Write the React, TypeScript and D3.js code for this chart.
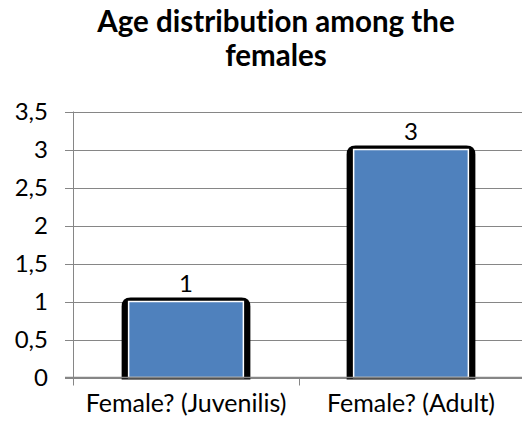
import React from "react";
import * as d3 from "d3";

const categories = ["Female? (Juvenilis)", "Female? (Adult)"];
const values = [1, 3];
const yTicks = [0, 0.5, 1, 1.5, 2, 2.5, 3, 3.5];
const titleLines = ["Age distribution among the", "females"];

const W = 522;
const H = 426;
const FONT = "Lato, 'Open Sans', sans-serif";

export default function App() {
  const x = d3
    .scaleBand<string>()
    .domain(categories)
    .range([73.5, 523.5])
    .paddingInner(0.49)
    .paddingOuter(0.245);
  const y = d3.scaleLinear().domain([0, 3.5]).range([377.5, 111.5]);
  const fmt = (v: number) => String(v).replace(".", ",");
  const step = x.step();
  const left = 73.5;
  const bounds = d3.range(categories.length + 1).map((i) => left + i * step);

  const outline = (x0: number, x1: number, top: number, bottom: number) => {
    const r = 9;
    return `M${x0},${bottom} L${x0},${top + r} Q${x0},${top} ${x0 + r},${top} L${x1 - r},${top} Q${x1},${top} ${x1},${top + r} L${x1},${bottom} Z`;
  };

  const txt = { fontFamily: FONT, fill: "#000", style: { fontVariantLigatures: "none" as const } };

  return (
    <svg width={W} height={H} style={{ display: "block", position: "absolute", left: 0, top: 0 }}>
      <rect width={W} height={H} fill="#ffffff" />
      {titleLines.map((t, i) => (
        <text key={t} x={276} y={32 + i * 34} textAnchor="middle" fontWeight="bold" fontSize={29.5} {...txt}>
          {t}
        </text>
      ))}
      {yTicks.map((t) => (
        <g key={t}>
          <line x1={65} x2={W} y1={Math.round(y(t)) + 0.5} y2={Math.round(y(t)) + 0.5} stroke="#868686" strokeWidth={1} />
          <text x={48} y={y(t)} dy="0.36em" textAnchor="end" fontSize={24} {...txt}>
            {fmt(t)}
          </text>
        </g>
      ))}
      <line x1={left} x2={left} y1={y(3.5)} y2={y(0) + 8} stroke="#868686" strokeWidth={1} />
      {categories.map((c, i) => {
        const x0 = x(c)!;
        const x1 = x0 + x.bandwidth();
        const top = y(values[i]);
        return (
          <g key={c}>
            <path d={outline(x0 - 7, x1 + 7, top - 4, y(0) + 2)} fill="#000" />
            <rect x={x0} y={top} width={x1 - x0} height={y(0) - top} fill="#4F81BD" stroke="#ffffff" strokeWidth={1.5} />
            <text x={(x0 + x1) / 2} y={top - 10} textAnchor="middle" fontSize={24} {...txt}>
              {values[i]}
            </text>
            <text x={(x0 + x1) / 2} y={412} textAnchor="middle" fontSize={25} {...txt}>
              {c}
            </text>
          </g>
        );
      })}
      <line x1={65} x2={W} y1={y(0)} y2={y(0)} stroke="#868686" strokeWidth={1.5} />
      {bounds.slice(1).map((b) => (
        <line key={b} x1={Math.round(b) + 0.5} x2={Math.round(b) + 0.5} y1={y(0)} y2={y(0) + 8} stroke="#868686" strokeWidth={1} />
      ))}
    </svg>
  );
}
